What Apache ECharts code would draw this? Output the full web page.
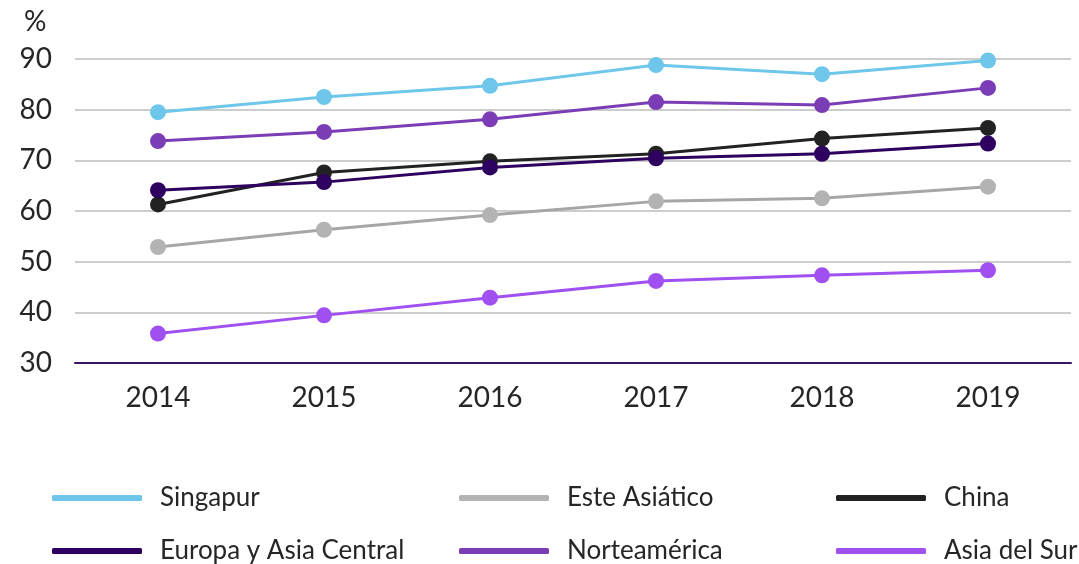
<!DOCTYPE html>
<html>
<head>
<meta charset="utf-8">
<script src="https://cdn.jsdelivr.net/npm/echarts@6/dist/echarts.min.js"></script>
<style>
html,body{margin:0;padding:0;background:#fff;}
#chart{width:1079px;height:564px;}
</style>
</head>
<body>
<div id="chart"></div>
<script>
const years = ['2014','2015','2016','2017','2018','2019'];
const singapur = [79.5, 82.5, 84.7, 88.8, 87.0, 89.7];
const esteAsiatico = [52.9, 56.3, 59.2, 61.9, 62.5, 64.8];
const china = [61.3, 67.6, 69.8, 71.3, 74.3, 76.4];
const europaAsiaCentral = [64.1, 65.7, 68.6, 70.4, 71.3, 73.3];
const norteamerica = [73.8, 75.6, 78.1, 81.5, 80.9, 84.3];
const asiaDelSur = [35.8, 39.4, 42.9, 46.2, 47.3, 48.3];
const yTicks = [30, 40, 50, 60, 70, 80, 90];

const seriesDefs = [
  {name:'Singapur', data:singapur, color:'#6EC6EA', mark:'#6EC6EA'},
  {name:'Este Asiático', data:esteAsiatico, color:'#A6A6A6', mark:'#B3B3B3'},
  {name:'China', data:china, color:'#222222', mark:'#222222'},
  {name:'Europa y Asia Central', data:europaAsiaCentral, color:'#2E0060', mark:'#2E0060'},
  {name:'Norteamérica', data:norteamerica, color:'#7A3DB5', mark:'#7A3DB5'},
  {name:'Asia del Sur', data:asiaDelSur, color:'#A050F0', mark:'#A050F0'}
];

const legendPos = [
  {left:52, top:485}, {left:459, top:485}, {left:836, top:485},
  {left:52, top:538}, {left:459, top:538}, {left:836, top:538}
];

const font = 'Lato, "Noto Sans", sans-serif';
const chart = echarts.init(document.getElementById('chart'));
chart.setOption({
  animation:false,
  textStyle:{fontFamily:font},
  grid:{left:75, right:8, top:59, bottom:201, containLabel:false},
  graphic:[{type:'text', left:24, top:8, style:{text:'%', font:'28px '+font, fill:'#262626'}}],
  legend: seriesDefs.map((s,i)=>({
    data:[s.name], left:legendPos[i].left, top:legendPos[i].top,
    icon:'roundRect', itemWidth:90, itemHeight:6, padding:0,
    textStyle:{fontSize:26, color:'#262626', fontFamily:font, padding:[0,0,0,13]}
  })),
  xAxis:{
    type:'category', data:years, boundaryGap:true,
    axisLine:{lineStyle:{color:'#3A1466', width:2}},
    axisTick:{show:false},
    axisLabel:{fontSize:28, color:'#262626', margin:21, fontFamily:font}
  },
  yAxis:{
    type:'value', min:yTicks[0], max:yTicks[yTicks.length-1], interval:10,
    axisLine:{show:false}, axisTick:{show:false},
    axisLabel:{fontSize:28, color:'#262626', margin:23, fontFamily:font},
    splitLine:{lineStyle:{color:'#BDBDBD', width:1.5}}
  },
  series: seriesDefs.map(s=>({
    name:s.name, type:'line', data:s.data,
    symbol:'circle', symbolSize:16,
    lineStyle:{color:s.color, width:3},
    itemStyle:{color:s.mark},
    color:s.color
  }))
});
</script>
</body>
</html>
